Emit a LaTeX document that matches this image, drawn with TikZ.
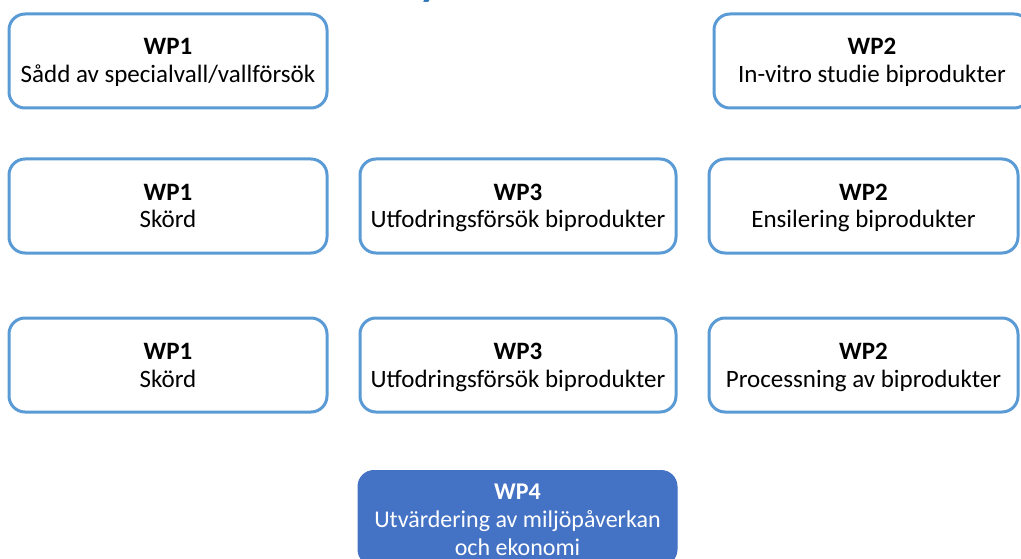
\documentclass[tikz,border=0pt]{standalone}
\usepackage{fontspec}
\setmainfont{Carlito}
\definecolor{bord}{HTML}{5B9BD5}
\definecolor{wpfill}{HTML}{4472C4}
\definecolor{titleblue}{HTML}{2E75B6}
\tikzset{
  wpbox/.style={draw=bord, line width=3pt, rounded corners=16pt, fill=white,
    align=center, font=\fontsize{25}{28}\selectfont, text height=50pt, text depth=6pt,
    inner sep=0pt},
  wide/.style={minimum width=318pt, minimum height=94pt},
  narrow/.style={minimum width=309pt, minimum height=94pt},
  darkbox/.style={wpbox, draw=wpfill, line width=1pt, fill=wpfill, text=white,
    font=\fontsize{24}{28}\selectfont,
    minimum width=319pt, minimum height=95pt, text height=75pt, text depth=1pt},
  titletext/.style={text=titleblue, font=\fontsize{44}{50}\selectfont\bfseries, inner sep=0pt}
}
\begin{document}
\begin{tikzpicture}[x=1pt,y=-1pt]
\useasboundingbox (0,0) rectangle (1021,559);
\node[titletext, anchor=base west] (title) at (419,-4) {y};
\node[wpbox, wide] (a) at (168,61) {\textbf{WP1}\\Sådd av specialvall/vallförsök};
\node[wpbox, minimum width=316pt, minimum height=94pt] (b) at (872,61) {\textbf{WP2}\\In-vitro studie biprodukter};
\node[wpbox, wide] (c) at (168,206) {\textbf{WP1}\\Skörd};
\node[wpbox, minimum width=316pt, minimum height=94pt] (d) at (518,206) {\textbf{WP3}\\Utfodringsförsök biprodukter};
\node[wpbox, narrow] (e) at (863.5,206) {\textbf{WP2}\\Ensilering biprodukter};
\node[wpbox, wide] (f) at (168,365) {\textbf{WP1}\\Skörd};
\node[wpbox, minimum width=316pt, minimum height=94pt] (g) at (518,365) {\textbf{WP3}\\Utfodringsförsök biprodukter};
\node[wpbox, narrow] (h) at (863.5,365) {\textbf{WP2}\\Processning av biprodukter};
\node[darkbox] (i) at (517.5,518) {\textbf{WP4}\\Utvärdering av miljöpåverkan\\och ekonomi};
\end{tikzpicture}
\end{document}
